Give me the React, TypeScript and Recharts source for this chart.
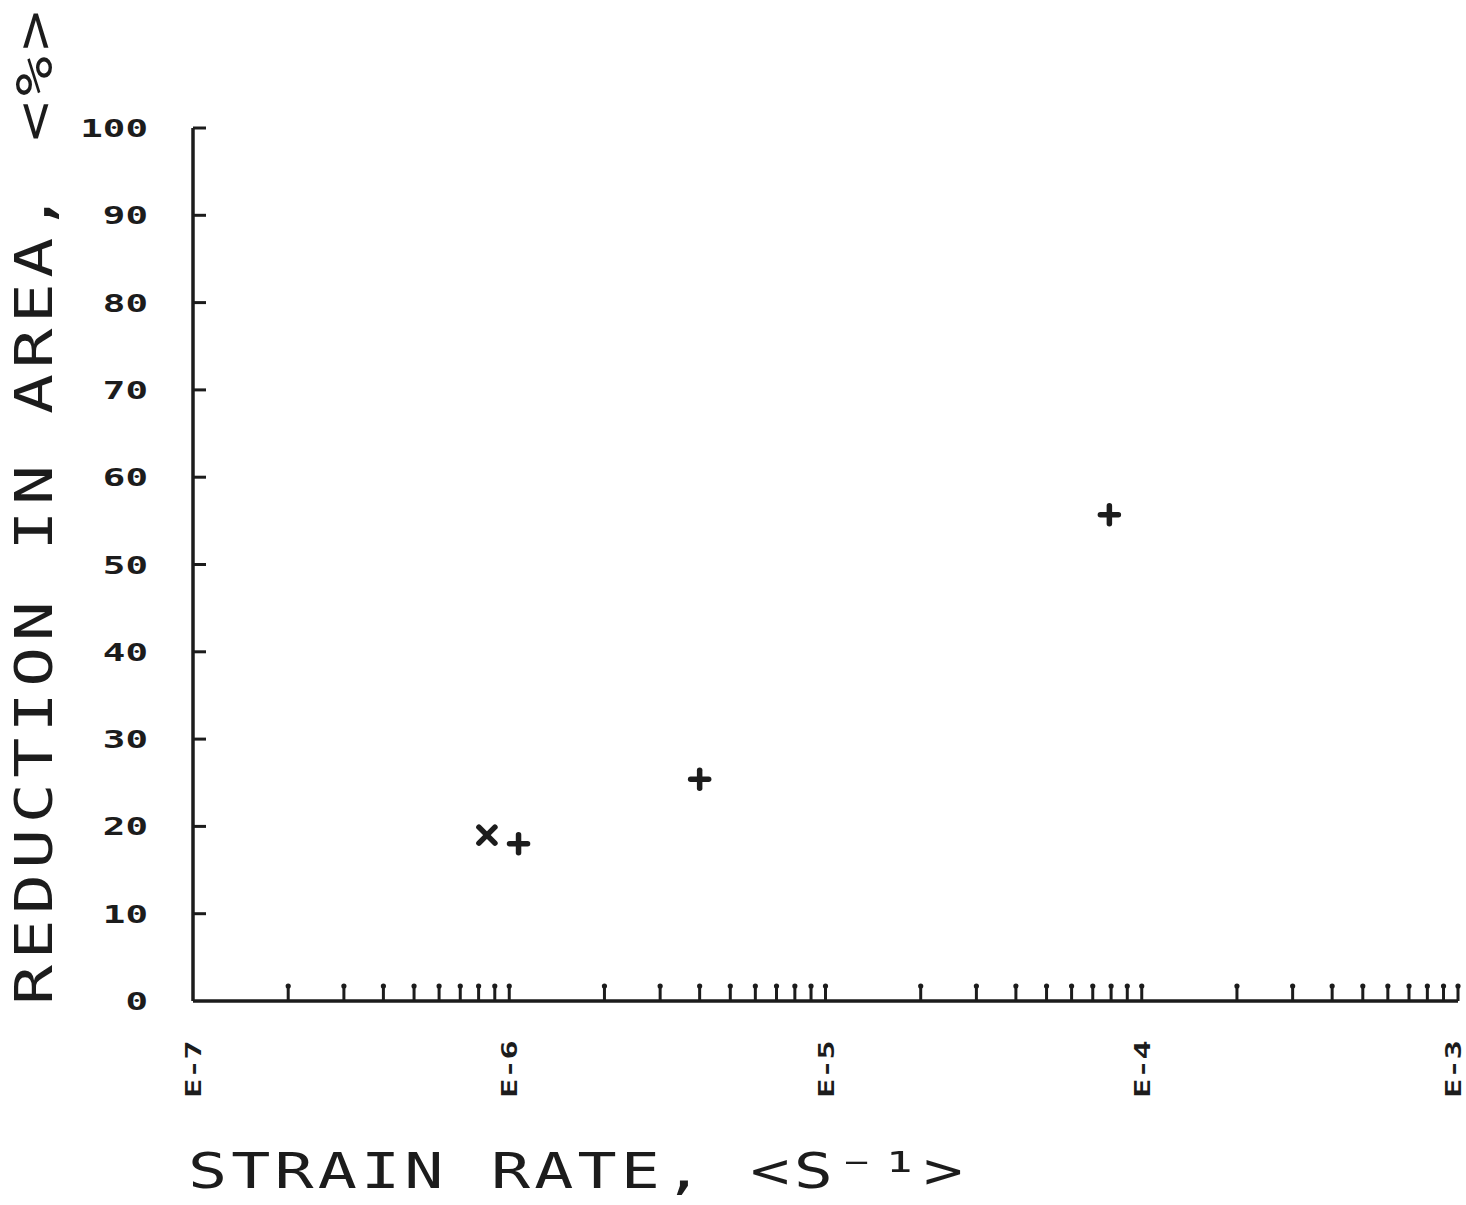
import React from 'react';
import { ScatterChart, Scatter, XAxis, YAxis } from 'recharts';

// Decade positions on the log strain-rate axis and their printed labels
const decadeTicks = [1e-7, 1e-6, 1e-5, 1e-4, 1e-3];
const decadeLabels = ['E-7', 'E-6', 'E-5', 'E-4', 'E-3'];
// Minor tick multipliers inside each decade
const minorMultipliers = [2, 3, 4, 5, 6, 7, 8, 9];
// Reduction-in-area tick values (%)
const yTicks = [0, 10, 20, 30, 40, 50, 60, 70, 80, 90, 100];

// Test results: strain rate (1/s) vs reduction in area (%)
const crossPoints = [{ rate: 8.5e-7, reduction: 19.0 }];
const plusPoints = [
  { rate: 1.07e-6, reduction: 18.0 },
  { rate: 4.0e-6, reduction: 25.4 },
  { rate: 7.9e-5, reduction: 55.7 },
];

const INK = '#1c1c1c';
const MONO = '"DejaVu Sans Mono", "Liberation Mono", monospace';

const allXTicks: number[] = [];
decadeTicks.forEach((d, i) => {
  allXTicks.push(d);
  if (i < decadeTicks.length - 1) minorMultipliers.forEach((m) => allXTicks.push(d * m));
});

const XTick = (props: any) => {
  const { x, y, payload } = props;
  const v = payload.value as number;
  const idx = decadeTicks.findIndex((d) => Math.abs(Math.log10(d) - Math.log10(v)) < 1e-9);
  const first = idx === 0;
  // keep the last decade label inside the drawing
  const bx = Math.min(x + 8, 1461);
  return (
    <g>
      {!first && (
        <g>
          <line x1={x} y1={y} x2={x} y2={y - 15} stroke={INK} strokeWidth={3} />
          <circle cx={x} cy={y - 15} r={2.6} fill={INK} />
        </g>
      )}
      {idx >= 0 && (
        <text
          transform={`translate(${bx},${y + 68}) rotate(-90) scale(1.45,1)`}
          textAnchor="middle"
          fontFamily={MONO}
          fontWeight="bold"
          fontSize={22}
          fill={INK}
        >
          {decadeLabels[idx]}
        </text>
      )}
    </g>
  );
};

const YTick = (props: any) => {
  const { x, y, payload } = props;
  const v = payload.value as number;
  return (
    <g>
      {v !== 0 && <line x1={x} y1={y} x2={x + 13} y2={y} stroke={INK} strokeWidth={3} />}
      <text
        transform={`translate(148,${y + 9}) scale(1.5,1)`}
        textAnchor="end"
        fontFamily={MONO}
        fontWeight="bold"
        fontSize={25}
        fill={INK}
      >
        {String(v)}
      </text>
    </g>
  );
};

const XTitle = () => (
  <text
    transform="translate(188,1188) scale(1.3,1)"
    fontFamily={MONO}
    fontSize={50}
    fill={INK}
    textLength={596}
    lengthAdjust="spacing"
  >
    STRAIN RATE, &lt;S⁻¹&gt;
  </text>
);

const YTitle = () => (
  <text
    transform="translate(52,1005) rotate(-90) scale(1.3,1)"
    fontFamily={MONO}
    fontSize={51}
    fill={INK}
    textLength={765}
    lengthAdjust="spacing"
  >
    REDUCTION IN AREA, &lt;%&gt;
  </text>
);

const PlusMark = (props: any) => {
  const { cx, cy } = props;
  return (
    <g stroke={INK} strokeWidth={5.5} strokeLinecap="round">
      <line x1={cx - 9} y1={cy} x2={cx + 9} y2={cy} />
      <line x1={cx} y1={cy - 9} x2={cx} y2={cy + 9} />
    </g>
  );
};

const CrossMark = (props: any) => {
  const { cx, cy } = props;
  return (
    <g stroke={INK} strokeWidth={5.5} strokeLinecap="round">
      <line x1={cx - 8} y1={cy - 8} x2={cx + 8} y2={cy + 8} />
      <line x1={cx - 8} y1={cy + 8} x2={cx + 8} y2={cy - 8} />
    </g>
  );
};

export default function App() {
  return (
    <div style={{ position: 'absolute', left: 0, top: 0, width: 1466, height: 1205, background: '#fff' }}>
      <ScatterChart width={1466} height={1205} margin={{ top: 128, right: 8, left: 93, bottom: 104 }}>
        <XAxis
          dataKey="rate"
          type="number"
          scale="log"
          domain={[1e-7, 1e-3]}
          ticks={allXTicks}
          interval={0}
          tick={<XTick />}
          tickLine={false}
          tickSize={0}
          tickMargin={0}
          height={100}
          allowDataOverflow
          axisLine={{ stroke: INK, strokeWidth: 3.5 }}
          label={<XTitle />}
        />
        <YAxis
          dataKey="reduction"
          type="number"
          domain={[0, 100]}
          ticks={yTicks}
          interval={0}
          tick={<YTick />}
          tickLine={false}
          tickSize={0}
          tickMargin={0}
          width={100}
          allowDataOverflow
          axisLine={{ stroke: INK, strokeWidth: 3.5 }}
          label={<YTitle />}
        />
        <Scatter data={crossPoints} shape={<CrossMark />} isAnimationActive={false} />
        <Scatter data={plusPoints} shape={<PlusMark />} isAnimationActive={false} />
      </ScatterChart>
    </div>
  );
}
